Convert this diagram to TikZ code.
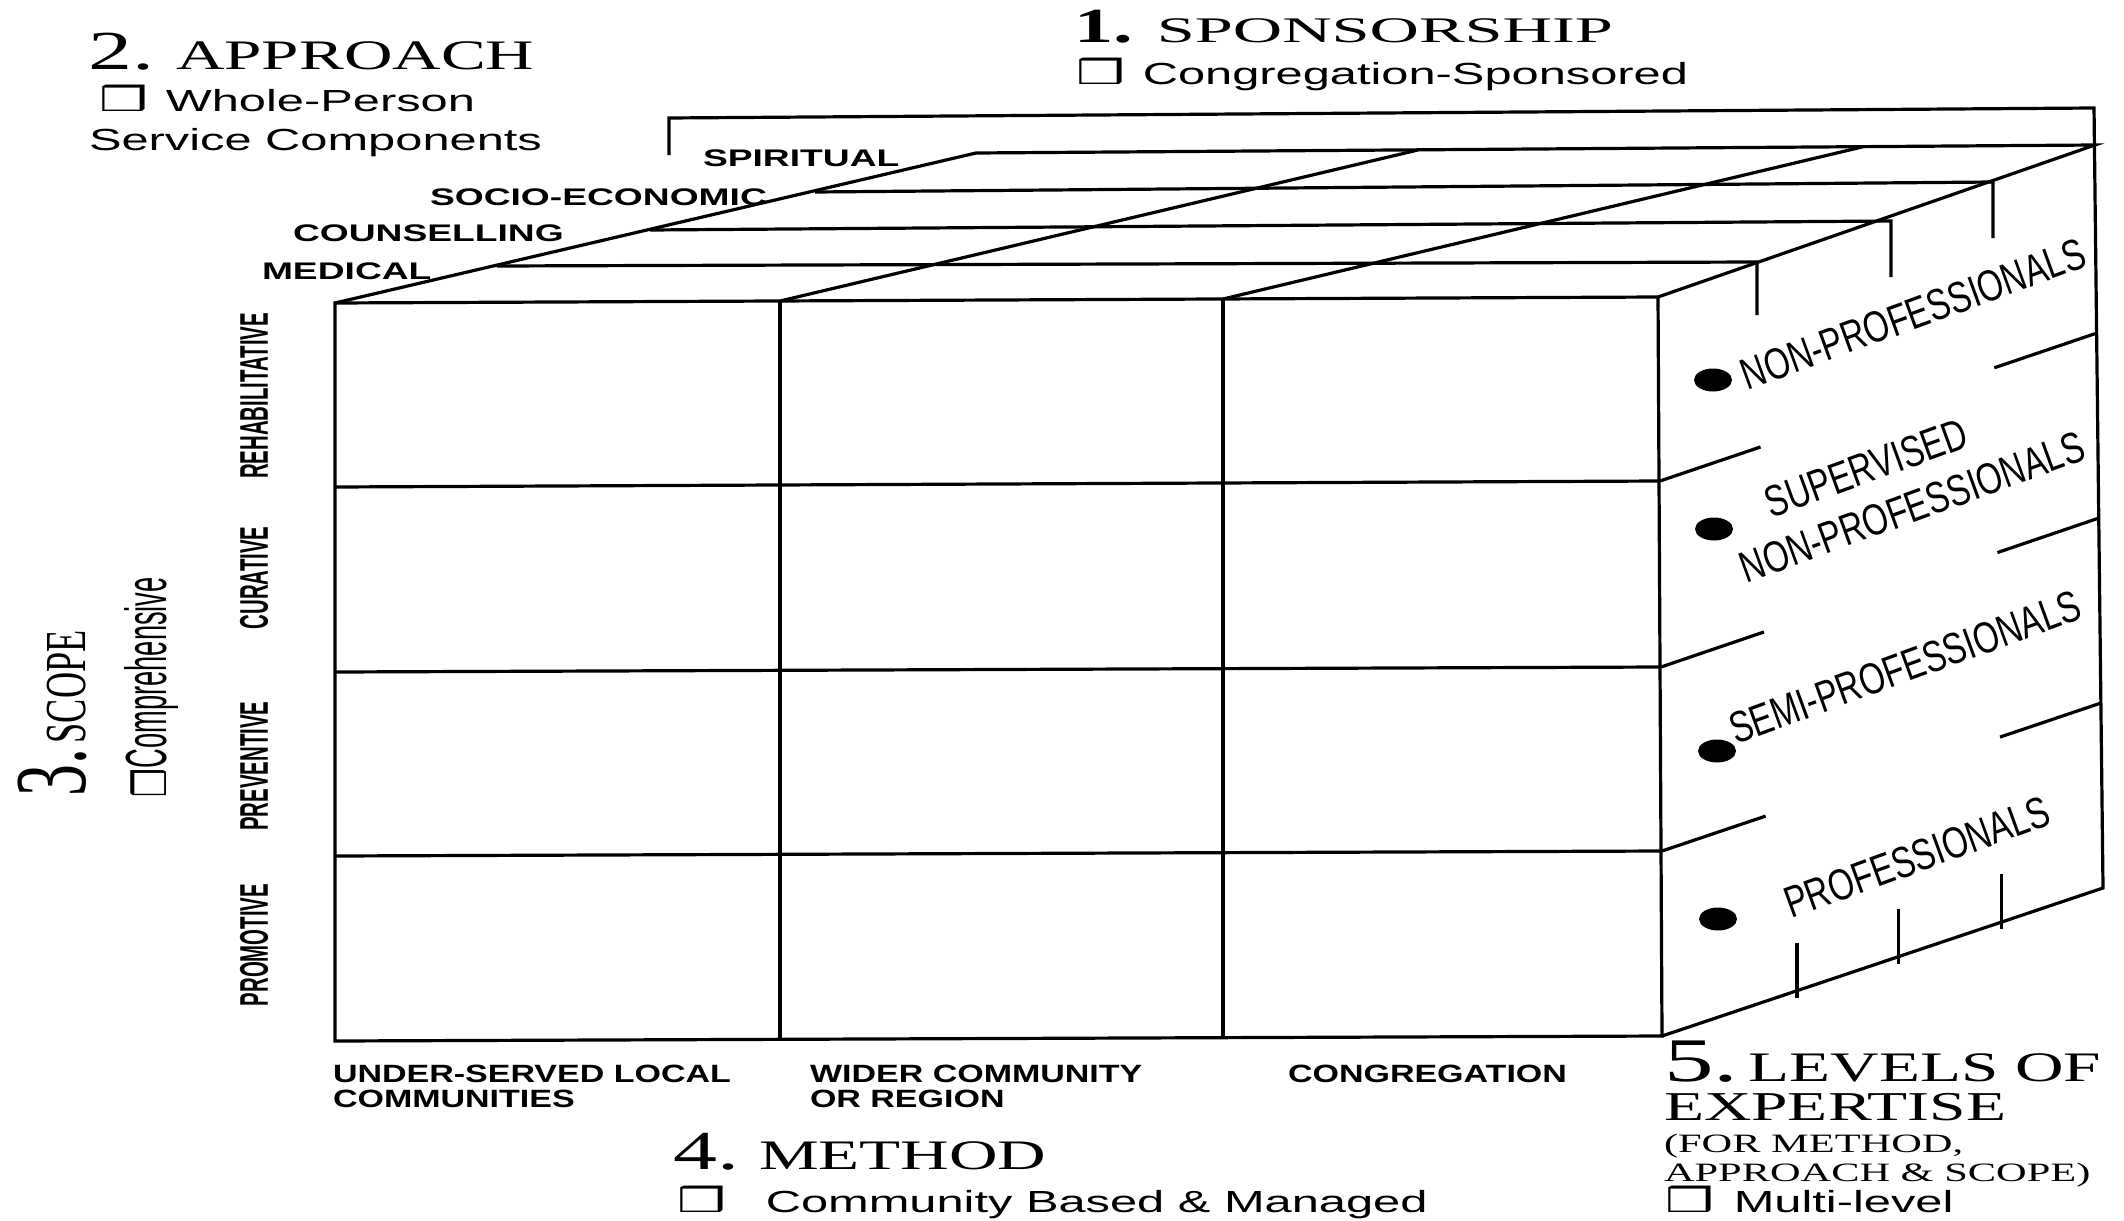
\documentclass[tikz,border=0pt]{standalone}
\usepackage{fontspec}
\setmainfont{Liberation Serif}
\newfontfamily\wserif[FakeStretch=1.6]{Liberation Serif}
\newfontfamily\wwserif[FakeStretch=1.9]{Liberation Serif}
\newfontfamily\wsans[FakeStretch=1.6]{Liberation Sans}
\newfontfamily\lblsans[FakeStretch=1.55]{Liberation Sans}
\newfontfamily\botsans[FakeStretch=1.36]{Liberation Sans}
\newfontfamily\cserif[FakeStretch=0.625]{Liberation Serif}
\newfontfamily\csans[FakeStretch=0.47]{Liberation Sans}
\newfontfamily\condb[FakeStretch=0.51]{Liberation Sans}
\newfontfamily\rcond[FakeStretch=0.75]{Liberation Sans}
\newfontfamily\dvw[FakeStretch=1.6]{DejaVu Sans}
\newfontfamily\dvc[FakeStretch=0.7]{DejaVu Sans}
\newcommand\sz[1]{\fontsize{#1}{#1}\selectfont}
\usetikzlibrary{calc,shapes.geometric}
\begin{document}
\begin{tikzpicture}[x=1pt,y=-1pt,
  edge/.style={line width=3.2pt, line join=miter},
  lbl/.style={inner sep=0pt, outer sep=0pt},
  dot/.style={ellipse, fill=black, draw=none, inner sep=0pt, minimum width=38pt, minimum height=23pt}]
\useasboundingbox (0,0) rectangle (2124,1220);

% ---------- front face ----------
\coordinate (F00) at (335,303);
\coordinate (F30) at (1658,297);
\coordinate (F04) at (335,1041);
\coordinate (F34) at (1662,1036);
\coordinate (F01) at (335,487);  \coordinate (F31) at (1660,481);
\coordinate (F02) at (335,672);  \coordinate (F32) at (1661,667);
\coordinate (F03) at (335,856);  \coordinate (F33) at (1662,851);
\coordinate (F10) at (780,301);  \coordinate (F14) at (780,1039);
\coordinate (F20) at (1223,299); \coordinate (F24) at (1223,1037);

% ---------- top face ----------
\coordinate (P1) at (497,266); \coordinate (Q1) at (1757,262);
\coordinate (P2) at (650,230); \coordinate (Q2) at (1891,221);
\coordinate (P3) at (815,192); \coordinate (Q3) at (1993,182);
\coordinate (P4) at (976,153); \coordinate (R0) at (2095,145);
\coordinate (T1) at (1418,150); \coordinate (T2) at (1862,147);

% ---------- right face / bracket ----------
\coordinate (R1) at (2097,333);
\coordinate (R2) at (2099,518);
\coordinate (R3) at (2101,703);
\coordinate (R4) at (2103,888);
\coordinate (K0) at (669,155);
\coordinate (K1) at (669,118);
\coordinate (K2) at (2094,108);

% front grid
\draw[edge] (F00) -- (F30) -- (F34) -- (F04) -- cycle;
\draw[edge] (F01) -- (F31);
\draw[edge] (F02) -- (F32);
\draw[edge] (F03) -- (F33);
\draw[edge] (F10) -- (F14);
\draw[edge] (F20) -- (F24);

% top grid
\draw[edge] (F00) -- (P4) -- (R0) -- (F30);
\draw[edge] (P1) -- (Q1) -- ++(0,53);
\draw[edge] (P2) -- (Q2) -- ++(0,56);
\draw[edge] (P3) -- (Q3) -- ++(0,56);
\draw[edge] (F10) -- (T1);
\draw[edge] (F20) -- (T2);

% bracket and right face outline
\draw[edge] (K0) -- (K1) -- (K2) -- (R4) -- (F34);

% right face partial dividers
\draw[edge] (F31) -- ($(F31)!0.23!(R1)$);
\draw[edge] ($(F31)!0.765!(R1)$) -- (R1);
\draw[edge] (F32) -- ($(F32)!0.235!(R2)$);
\draw[edge] ($(F32)!0.768!(R2)$) -- (R2);
\draw[edge] (F33) -- ($(F33)!0.236!(R3)$);
\draw[edge] ($(F33)!0.77!(R3)$) -- (R3);

% bottom ticks
\coordinate (B1) at ($(F34)!0.306!(R4)$);
\coordinate (B2) at ($(F34)!0.537!(R4)$);
\coordinate (B3) at ($(F34)!0.769!(R4)$);
\draw[edge] ($(B1)+(0,-48)$) -- ($(B1)+(0,7)$);
\draw[edge] ($(B2)+(0,-48)$) -- ($(B2)+(0,7)$);
\draw[edge] ($(B3)+(0,-48)$) -- ($(B3)+(0,7)$);

% bullets
\node[dot] (d1) at (1713,380) {};
\node[dot] (d2) at (1714,529) {};
\node[dot] (d3) at (1717,751) {};
\node[dot] (d4) at (1718,919) {};

% right-face labels
\node[lbl, rotate=20] (l1) at (1913,314) {\rcond\sz{44}NON-PROFESSIONALS};
\node[lbl, rotate=20] (l2a) at (1866,468) {\rcond\sz{44}SUPERVISED};
\node[lbl, rotate=20] (l2b) at (1912,507) {\rcond\sz{44}NON-PROFESSIONALS};
\node[lbl, rotate=20] (l3) at (1905,667) {\rcond\sz{44}SEMI-PROFESSIONALS};
\node[lbl, rotate=20] (l4) at (1917,857) {\rcond\sz{44}PROFESSIONALS};

% top-face row labels
\node[lbl, anchor=west] (rm) at (262,271) {\lblsans\bfseries\sz{24}MEDICAL};
\node[lbl, anchor=west] (rc) at (293,233) {\lblsans\bfseries\sz{24}COUNSELLING};
\node[lbl, anchor=west] (rs) at (430,197) {\lblsans\bfseries\sz{24}SOCIO-ECONOMIC};
\node[lbl, anchor=west] (rp) at (703,158) {\lblsans\bfseries\sz{24}SPIRITUAL};

% left scope labels
\node[lbl, rotate=90] (s1) at (254,396) {\condb\bfseries\sz{40}REHABILITATIVE};
\node[lbl, rotate=90] (s2) at (254,578) {\condb\bfseries\sz{40}CURATIVE};
\node[lbl, rotate=90] (s3) at (254,766) {\condb\bfseries\sz{40}PREVENTIVE};
\node[lbl, rotate=90] (s4) at (254,945) {\condb\bfseries\sz{40}PROMOTIVE};

% bottom method labels
\node[lbl, anchor=base west] (m1a) at (333,1082) {\botsans\bfseries\sz{25}UNDER-SERVED LOCAL};
\node[lbl, anchor=base west] (m1b) at (333,1107) {\botsans\bfseries\sz{25}COMMUNITIES};
\node[lbl, anchor=base west] (m2a) at (810,1082) {\botsans\bfseries\sz{25}WIDER COMMUNITY};
\node[lbl, anchor=base west] (m2b) at (810,1107) {\botsans\bfseries\sz{25}OR REGION};
\node[lbl, anchor=base west] (m3) at (1288,1082) {\botsans\bfseries\sz{25}CONGREGATION};

% headings
\node[lbl, anchor=base west] (h2) at (88,70) {\wserif\sz{55}2.\hspace{22pt}\sz{42}APPROACH};
\node[lbl, anchor=base west] (h2a) at (99,112) {\dvw\sz{34}❒\hspace{18pt}\wsans\sz{30.5}Whole-Person};
\node[lbl, anchor=base west] (h2b) at (89,150) {\wsans\sz{30.5}Service Components};

\node[lbl, anchor=base west] (h1) at (1074,43) {\wserif\bfseries\sz{49}1.\hspace{24pt}\wwserif\mdseries\sz{36}SPONSORSHIP};
\node[lbl, anchor=base west] (h1a) at (1076,85) {\dvw\sz{34}❒\hspace{18pt}\wsans\sz{30.5}Congregation-Sponsored};

\node[lbl, anchor=base west, rotate=90] (h3) at (85,796) {\cserif\sz{102}3.\hspace{5pt}\sz{58}SCOPE};
\node[lbl, anchor=base west, rotate=90] (h3a) at (166,797) {\dvc\sz{46}❒\csans\sz{58}Comprehensive};

\node[lbl, anchor=base west] (h4) at (673,1169) {\wserif\sz{55}4.\hspace{20pt}\sz{42}METHOD};
\node[lbl, anchor=base west] (h4a) at (677,1212) {\dvw\sz{34}❒\hspace{40pt}\wsans\sz{30.5}Community Based \& Managed};

\node[lbl, anchor=base west] (h5) at (1664,1081) {\wserif\sz{62}5.\hspace{10pt}\sz{42}LEVELS OF};
\node[lbl, anchor=base west] (h5b) at (1664,1120) {\wserif\sz{41}EXPERTISE};
\node[lbl, anchor=base west] (h5c) at (1664,1152) {\wserif\sz{26.5}(FOR METHOD,};
\node[lbl, anchor=base west] (h5d) at (1664,1181) {\wserif\sz{26.5}APPROACH \& SCOPE)};
\node[lbl, anchor=base west] (h5a) at (1665,1212) {\dvw\sz{34}❒\hspace{20pt}\wsans\sz{30.5}Multi-level};
\end{tikzpicture}
\end{document}
